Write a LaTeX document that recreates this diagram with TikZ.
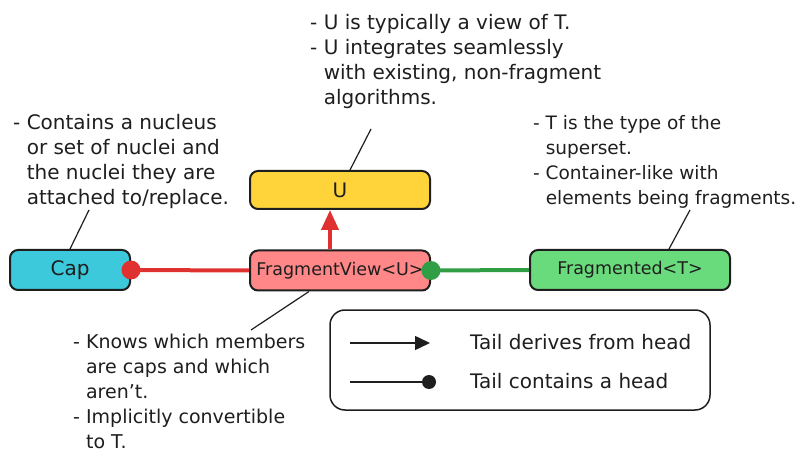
\documentclass[tikz,border=0pt]{standalone}
\usepackage{fontspec}
\setmainfont{DejaVu Sans}
\usetikzlibrary{arrows.meta,calc}
\definecolor{ink}{HTML}{1E1E1E}
\definecolor{capfill}{HTML}{3BC9DB}
\definecolor{fvfill}{HTML}{FF8787}
\definecolor{ufill}{HTML}{FFD43B}
\definecolor{frfill}{HTML}{69DB7C}
\definecolor{redline}{HTML}{E03131}
\definecolor{greenline}{HTML}{2F9E44}
\begin{document}
\begin{tikzpicture}[x=1pt,y=-1pt,
  box/.style={draw=ink, line width=2pt, rounded corners=8pt, inner sep=0pt,
    minimum height=40pt, text=ink, font=\fontsize{20}{25}\selectfont},
  note/.style={anchor=north west, inner sep=0pt, align=left, text=ink,
    font=\fontsize{20}{25}\selectfont},
  leader/.style={draw=ink, line width=1.2pt},
  redconn/.style={draw=redline, line width=4pt},
  greenconn/.style={draw=greenline, line width=4pt},
  legtext/.style={anchor=base west, inner sep=0pt, text=ink, font=\fontsize{20}{25}\selectfont},
]
\useasboundingbox (0,0) rectangle (809,465);

% boxes
\node[box, fill=capfill, minimum width=120pt] (cap) at (70,270) {Cap};
\node[box, fill=fvfill, minimum width=180pt, font=\fontsize{17.5}{20}\selectfont] (fv) at (340,270.5) {FragmentView<U>};
\node[box, fill=ufill, minimum width=180pt, minimum height=38pt] (u) at (340,190) {U};
\node[box, fill=frfill, minimum width=200pt, font=\fontsize{17.5}{20}\selectfont] (fr) at (630,270) {Fragmented<T>};

% notes
\node[note] (nu) at (310,13) {\rule{0pt}{16pt}- U is typically a view of T.\\- U integrates seamlessly\\\phantom{- }with existing, non-fragment\\\phantom{- }algorithms.};
\node[note] (ncap) at (13,113) {\rule{0pt}{16pt}- Contains a nucleus\\\phantom{- }or set of nuclei and\\\phantom{- }the nuclei they are\\\phantom{- }attached to/replace.};
\node[note, font=\fontsize{18.5}{25}\selectfont] (nfr) at (533,113) {\rule{0pt}{16pt}- T is the type of the\\\phantom{- }superset.\\- Container-like with\\\phantom{- }elements being fragments.};
\node[note, font=\fontsize{19}{25}\selectfont] (nfv) at (73,332) {\rule{0pt}{16pt}- Knows which members\\\phantom{- }are caps and which\\\phantom{- }aren't.\\- Implicitly convertible\\\phantom{- }to T.};

% leader lines
\coordinate (nuend) at (371,129);
\coordinate (ncapend) at (89,210);
\coordinate (nfrend) at (690,210);
\coordinate (nfvend) at (251,330);
\draw[leader] ($(u.north)+(10,0)$) -- (nuend);
\draw[leader] (cap.north) -- (ncapend);
\draw[leader] ($(fr.north)+(39,0)$) -- (nfrend);
\draw[leader] ($(fv.south)+(-31,0)$) -- (nfvend);

% connectors
\draw[redconn] (fv.west) -- (cap.east);
\fill[redline] (cap.east) circle (9.5pt);
\draw[greenconn] (fr.west) -- (fv.east);
\fill[greenline] (fv.east) circle (9.5pt);
\draw[redconn, -{Triangle[length=20pt,width=17pt]}] ($(fv.north)+(-10,0)$) -- ($(u.south)+(-10,0)$);

% legend
\node[draw=ink, line width=1.5pt, rounded corners=15pt, minimum width=380pt, minimum height=100pt, inner sep=0pt] (legend) at (520,360) {};
\coordinate (la1) at (350,343);
\coordinate (lb1) at (430,343);
\coordinate (la2) at (350,382);
\coordinate (lb2) at (429,382);
\draw[ink, line width=1.5pt, -{Triangle[length=15pt,width=14pt]}] (la1) -- (lb1);
\draw[ink, line width=1.5pt] (la2) -- (lb2);
\fill[ink] (lb2) circle (7pt);
\node[legtext] (lt1) at (470,349) {Tail derives from head};
\node[legtext] (lt2) at (470,388) {Tail contains a head};
\end{tikzpicture}
\end{document}
